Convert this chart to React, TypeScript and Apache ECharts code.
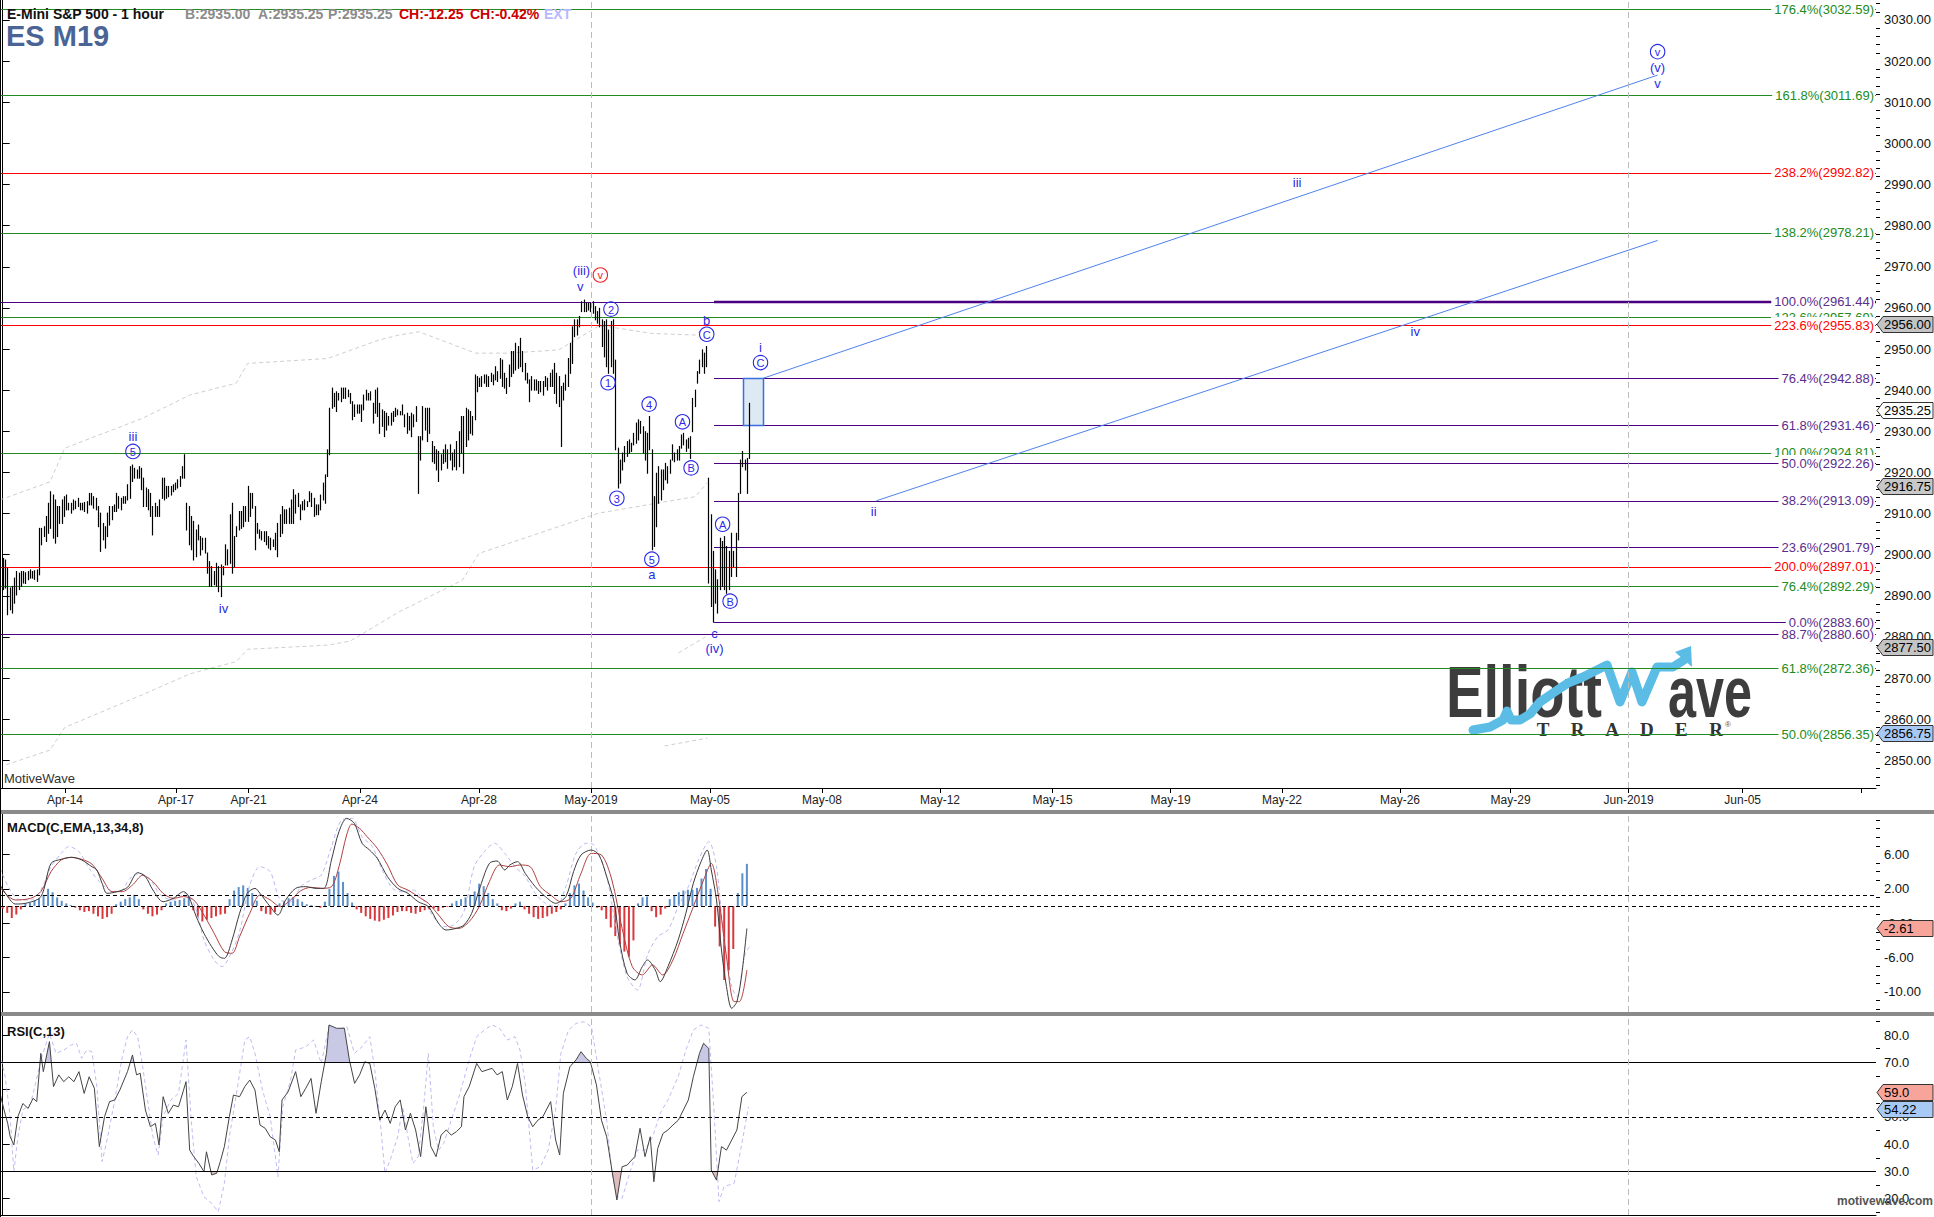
import React, { useEffect, useRef } from 'react';
import * as echarts from 'echarts';

const FONT = '"Liberation Sans", Arial, Helvetica, sans-serif';

// ---------------- DATA ----------------
const barHigh = [
  2899.1,2898.7,2896.7,2891.9,2892.3,2894.3,2895.9,2895.5,2895.9,2895.9,
  2895.6,2895.9,2896.3,2895.9,2896.1,2896.3,2906.4,2906.4,2906.8,2909.3,
  2912.5,2915.3,2914.5,2913.3,2911.7,2911.7,2913.3,2914.1,2914.5,2912.5,
  2912.5,2913.3,2913.0,2913.7,2912.5,2912.5,2912.7,2912.9,2914.9,2914.9,
  2914.1,2913.7,2911.7,2910.1,2907.6,2906.8,2910.1,2911.7,2911.7,2912.1,
  2914.9,2914.1,2913.7,2914.1,2914.1,2917.0,2921.4,2921.8,2921.0,2920.6,
  2921.4,2921.0,2918.6,2916.2,2915.8,2914.9,2911.7,2912.5,2911.7,2913.3,
  2918.6,2918.6,2916.6,2916.6,2916.6,2917.0,2917.4,2918.2,2919.0,2921.4,
  2924.3,2912.5,2911.7,2909.3,2908.1,2906.0,2907.2,2904.4,2904.0,2904.0,
  2900.4,2898.3,2897.1,2895.9,2897.9,2897.1,2897.5,2897.1,2902.4,2901.2,
  2909.7,2912.5,2904.4,2906.8,2910.5,2910.5,2911.7,2911.7,2916.6,2914.9,
  2914.9,2911.7,2907.6,2906.0,2905.6,2905.6,2905.6,2904.4,2904.0,2903.6,
  2905.2,2907.6,2909.7,2911.7,2910.9,2910.9,2911.3,2913.3,2915.8,2914.5,
  2914.9,2912.1,2912.9,2913.3,2912.9,2915.3,2914.9,2913.7,2912.1,2912.1,
  2914.5,2917.4,2919.4,2925.5,2935.6,2940.5,2939.2,2939.6,2939.2,2940.5,
  2940.5,2940.5,2940.0,2939.2,2937.2,2936.4,2936.4,2936.4,2936.4,2938.8,
  2940.0,2939.2,2939.6,2936.8,2940.0,2940.5,2936.8,2935.2,2934.8,2934.4,
  2933.6,2934.4,2934.8,2935.6,2935.2,2934.8,2936.4,2934.0,2934.4,2933.6,
  2934.4,2934.0,2936.0,2928.7,2928.7,2936.0,2935.6,2935.6,2935.6,2927.5,
  2926.3,2925.5,2925.1,2924.3,2925.5,2926.7,2925.5,2926.7,2924.7,2925.5,
  2927.5,2929.9,2933.6,2933.6,2935.6,2935.2,2934.8,2933.6,2943.7,2943.3,
  2942.9,2943.3,2943.7,2943.7,2943.3,2944.1,2943.7,2945.7,2944.5,2947.7,
  2947.3,2944.1,2942.9,2946.1,2949.4,2949.4,2951.4,2950.6,2952.6,2949.4,
  2946.5,2944.1,2942.5,2943.3,2942.5,2942.5,2942.1,2942.1,2942.1,2943.3,
  2942.9,2944.1,2944.9,2946.5,2944.1,2943.3,2940.9,2941.7,2943.7,2947.7,
  2951.4,2955.4,2957.1,2957.1,2957.9,2961.5,2961.9,2961.1,2961.1,2961.1,
  2961.5,2960.3,2959.1,2959.9,2957.1,2956.7,2957.1,2954.6,2956.7,2957.1,
  2947.3,2925.9,2923.0,2924.7,2926.3,2927.5,2927.9,2927.1,2929.5,2932.0,
  2932.8,2932.4,2931.1,2929.9,2929.5,2933.6,2925.5,2914.1,2919.8,2921.4,
  2920.6,2920.6,2922.2,2921.4,2923.0,2926.7,2924.7,2925.5,2926.3,2929.1,
  2929.5,2927.9,2928.3,2928.7,2938.0,2940.0,2944.5,2947.3,2949.8,2949.0,
  2950.6,2918.6,2909.7,2900.8,2896.3,2893.9,2904.0,2903.2,2904.4,2902.0,
  2900.8,2905.2,2900.8,2905.2,2914.9,2923.0,2925.1,2923.0,2923.4,2936.8
];
const barLow = [
  2891.5,2891.9,2885.4,2886.6,2885.8,2888.2,2890.2,2891.5,2892.3,2893.1,
  2893.0,2893.9,2894.3,2894.3,2894.0,2893.5,2895.1,2902.4,2904.4,2903.2,
  2905.2,2906.4,2904.0,2902.8,2904.4,2907.6,2907.6,2909.3,2910.9,2910.9,
  2910.1,2910.9,2911.2,2911.7,2910.9,2910.9,2910.5,2910.1,2912.1,2912.1,
  2911.3,2910.9,2906.8,2900.8,2903.6,2901.6,2904.4,2907.2,2908.5,2910.5,
  2910.5,2911.3,2910.9,2912.5,2912.5,2913.3,2913.7,2917.8,2918.6,2918.6,
  2918.6,2915.8,2911.7,2911.7,2910.9,2909.3,2904.8,2909.3,2909.3,2909.3,
  2913.7,2913.3,2913.7,2914.1,2914.5,2915.3,2915.8,2916.2,2916.6,2918.6,
  2918.6,2906.0,2902.4,2901.2,2898.7,2899.5,2903.6,2899.9,2901.2,2900.4,
  2895.5,2892.3,2892.3,2892.7,2892.3,2891.0,2889.8,2895.1,2897.5,2897.5,
  2897.9,2895.5,2897.1,2904.4,2906.0,2906.4,2906.8,2908.1,2908.1,2909.3,
  2911.3,2901.2,2905.2,2904.0,2903.6,2903.2,2902.4,2901.6,2901.2,2902.0,
  2901.2,2899.5,2904.4,2905.2,2907.6,2907.6,2907.6,2907.6,2907.6,2910.1,
  2911.7,2908.5,2910.9,2910.9,2911.7,2912.9,2911.7,2909.3,2909.7,2909.7,
  2910.9,2913.3,2912.5,2919.0,2924.3,2935.6,2936.0,2934.8,2937.6,2937.2,
  2938.0,2938.0,2938.4,2936.8,2932.8,2933.6,2934.4,2934.4,2932.4,2935.2,
  2937.6,2937.6,2937.6,2932.0,2934.4,2933.6,2929.5,2931.2,2928.7,2930.3,
  2931.5,2931.5,2932.4,2933.6,2934.0,2934.0,2934.0,2931.1,2929.5,2930.3,
  2928.7,2931.1,2932.4,2914.9,2923.0,2927.9,2930.3,2927.5,2929.5,2922.6,
  2922.2,2920.6,2917.8,2920.6,2922.2,2922.6,2921.0,2923.0,2920.6,2921.4,
  2920.6,2921.4,2924.7,2919.8,2926.3,2927.9,2929.5,2929.1,2932.8,2939.6,
  2940.9,2940.9,2941.7,2940.9,2940.9,2942.1,2941.3,2942.5,2942.1,2942.9,
  2940.9,2940.5,2939.2,2940.9,2943.3,2944.1,2944.9,2945.3,2945.7,2944.5,
  2942.5,2941.7,2937.2,2940.0,2940.0,2940.0,2939.2,2939.6,2938.8,2940.9,
  2940.0,2940.9,2940.9,2939.2,2936.8,2936.0,2926.3,2937.6,2940.0,2940.9,
  2944.1,2946.5,2953.0,2953.4,2955.4,2959.1,2959.1,2959.1,2959.5,2959.1,
  2958.7,2957.1,2956.3,2955.4,2950.6,2948.1,2945.7,2944.1,2945.7,2944.1,
  2925.5,2916.2,2917.4,2920.6,2922.6,2923.9,2924.7,2925.1,2926.7,2927.1,
  2927.9,2929.5,2924.7,2923.0,2919.8,2925.5,2901.2,2902.0,2906.8,2912.5,
  2913.3,2915.8,2918.2,2917.4,2919.8,2923.0,2922.6,2923.0,2923.0,2925.9,
  2926.7,2925.1,2925.9,2923.4,2929.9,2936.0,2941.7,2944.1,2945.7,2944.1,
  2945.7,2893.1,2887.4,2883.6,2888.2,2885.8,2891.5,2892.3,2891.5,2890.6,
  2891.5,2894.7,2897.1,2894.7,2903.6,2914.9,2921.4,2920.6,2914.9,2923.4
];

const dateTickPos = [27.46, 76.38, 108.38, 157.48, 209.92, 259.29, 311.74, 361.1, 413.11, 462.74, 514.74, 563.84, 615.85, 664.59, 716.6, 766.89, 818.95];
const dateTickLabels = ['Apr-14','Apr-17','Apr-21','Apr-24','Apr-28','May-2019','May-05','May-08','May-12','May-15','May-19','May-22','May-26','May-29','Jun-2019','Jun-05',''];
const monthLinePos = [259.29, 716.6];

const priceAxisTicks = [2850,2860,2870,2880,2890,2900,2910,2920,2930,2940,2950,2960,2970,2980,2990,3000,3010,3020,3030];
const macdAxisTicks = [6, 2, -2, -6, -10];
const rsiAxisTicks = [80, 70, 60, 50, 40, 30, 20];

const greenFibPct = ['176.4%','161.8%','138.2%','123.6%','100.0%','76.4%','61.8%','50.0%'];
const greenFibLevel = [3032.59, 3011.69, 2978.21, 2957.69, 2924.81, 2892.29, 2872.36, 2856.35];
const redFibPct = ['238.2%','223.6%','200.0%'];
const redFibLevel = [2992.82, 2955.83, 2897.01];
const purpleOldPct = ['', '88.7%'];
const purpleOldLevel = [2961.44, 2880.60];
const purpleNewPct = ['100.0%','76.4%','61.8%','50.0%','38.2%','23.6%','0.0%'];
const purpleNewLevel = [2961.44, 2942.88, 2931.46, 2922.26, 2913.09, 2901.79, 2883.60];
const purpleNewStart = 313.5;

const priceTagValues = [2956.00, 2935.25, 2916.75, 2877.50, 2856.75];
const priceTagText = ['2956.00', '2935.25', '2916.75', '2877.50', '2856.75'];
const macdTagValues = [-2.61];
const macdTagText = ['-2.61'];
const rsiTagValues = [59.0, 54.22];
const rsiTagText = ['59.0', '54.22'];

const plainWaveLabels = [
  [57.4, 2928.7, 'iii'], [97.3, 2887.0, 'iv'], [255.1, 2969.0, '(iii)'], [254.6, 2965.2, 'v'],
  [286.1, 2895.1, 'a'], [310.3, 2957.0, 'b'], [334.0, 2950.4, 'i'], [313.7, 2880.9, 'c'],
  [313.7, 2877.2, '(iv)'], [383.9, 2910.4, 'ii'], [570.5, 2990.5, 'iii'], [622.6, 2954.2, 'iv'],
  [729.4, 3018.4, '(v)'], [729.4, 3014.5, 'v']
];
const circledWaveLabels = [
  [57.4, 2925.1, '5'], [268.1, 2959.7, '2'], [266.8, 2941.8, '1'], [270.7, 2913.7, '3'],
  [284.9, 2936.6, '4'], [286.1, 2898.9, '5'], [299.6, 2932.3, 'A'], [303.4, 2921.1, 'B'],
  [310.3, 2953.6, 'C'], [334.0, 2946.7, 'C'], [317.3, 2907.4, 'A'], [320.6, 2888.7, 'B'],
  [729.4, 3022.3, 'v']
];
const redCircledWaveLabels = [[263.4, 2968.0, 'v']];

const targetBox = [326.1, 2942.88, 335.1, 2931.46];
const blueLineA = [[335.1, 2942.88], [729.4, 3016.6]];
const blueLineB = [[385.0, 2913.09], [729.4, 2976.4]];
const upperBand = [[-1.2,2913.3],[20.8,2917.7],[27.4,2925.9],[61.8,2933.2],[82.4,2938.8],[102.9,2941.7],[108.0,2946.5],[143.2,2947.7],[165.9,2952.2],[174.7,2953.4],[183.5,2954.2],[208.4,2949.0],[223.1,2949.0],[245.1,2949.8],[262.7,2955.6],[268.4,2955.3],[286.1,2953.8],[305.2,2953.4],[309.6,2955.4]];
const lowerBand = [[1.5,2848.9],[20.8,2852.5],[27.4,2858.0],[61.8,2866.0],[82.4,2871.0],[102.9,2874.0],[108.0,2877.0],[143.2,2878.0],[153.2,2879.0],[174.7,2886.1],[202.6,2893.8],[209.9,2900.3],[262.7,2910.1],[305.2,2914.1],[310.3,2917.4]];
const bandSegA = [[297.8,2876.1],[309.7,2880.0]];
const bandSegB = [[291.7,2853.5],[310.6,2855.4]];

const macdLine = [[-1.2,2.44],[3.3,0.70],[5.5,0.23],[10.0,0.31],[16.8,1.09],[21.3,4.96],[25.8,5.43],[30.3,5.66],[34.8,5.35],[39.3,4.57],[41.5,4.19],[43.8,2.64],[46.0,1.47],[50.5,1.67],[55.0,2.17],[59.5,3.88],[62.9,3.41],[66.2,1.86],[70.7,0.50],[75.2,0.89],[79.7,1.67],[82.0,1.09],[85.3,-1.24],[88.7,-3.18],[92.1,-4.73],[95.4,-5.89],[97.7,-6.09],[101.1,-3.95],[104.4,-0.85],[107.8,1.47],[111.2,2.05],[113.4,1.47],[117.9,-0.08],[121.3,-1.05],[124.7,0.70],[129.1,2.05],[133.6,2.25],[138.1,2.05],[141.5,2.05],[144.9,5.35],[148.2,8.64],[151.6,10.19],[155.0,9.61],[158.4,7.29],[161.7,6.51],[165.1,5.54],[169.6,3.41],[174.1,2.05],[178.6,1.47],[183.1,0.50],[187.6,-0.08],[192.1,-2.02],[195.4,-2.79],[199.9,-2.60],[203.3,-2.21],[206.7,-0.85],[210.0,1.86],[214.5,4.96],[217.9,5.23],[221.3,4.19],[223.5,4.77],[226.9,5.16],[230.3,3.80],[234.7,2.25],[239.2,1.09],[243.7,0.31],[248.2,1.09],[251.6,3.99],[254.9,5.93],[259.4,6.51],[262.8,5.93],[266.2,3.41],[269.6,0.31],[271.8,-3.95],[275.2,-7.83],[278.6,-8.60],[281.9,-7.05],[284.2,-6.28],[287.6,-7.44],[289.8,-8.80],[293.2,-7.05],[297.7,-3.95],[301.1,-0.85],[304.4,2.64],[307.8,5.16],[310.5,6.51],[312.3,4.19],[314.6,0.70],[316.8,-5.12],[319.0,-9.38],[321.3,-11.90],[323.6,-11.12],[325.8,-7.83],[328.0,-2.61]];
const signalLine = [[-1.2,2.17],[5.5,0.70],[12.3,0.89],[16.8,1.67],[21.3,3.99],[25.8,5.35],[30.3,5.66],[34.8,5.43],[39.3,4.88],[43.8,3.22],[48.2,1.67],[52.7,1.67],[57.2,2.44],[61.7,3.57],[66.2,2.83],[70.7,1.47],[75.2,0.89],[79.7,1.09],[84.2,0.70],[88.7,-1.05],[93.2,-3.18],[97.7,-5.31],[101.1,-5.50],[104.4,-3.57],[108.9,-0.85],[113.4,1.28],[117.9,0.70],[122.4,-0.08],[126.9,0.70],[131.4,1.78],[135.9,2.17],[140.4,2.05],[144.9,2.25],[148.2,4.57],[151.6,8.26],[153.9,9.53],[157.3,9.03],[160.6,8.06],[165.1,6.71],[169.6,4.77],[174.1,2.44],[178.6,1.86],[183.1,1.09],[187.6,0.31],[192.1,-1.05],[196.6,-2.40],[201.1,-2.60],[205.6,-1.82],[210.0,-0.08],[214.5,2.83],[219.0,4.77],[223.5,4.57],[228.0,4.77],[232.5,4.57],[237.0,2.25],[241.5,1.28],[246.0,0.50],[250.4,0.89],[254.9,3.80],[259.4,6.12],[263.9,5.93],[268.5,3.02],[273.0,-2.60],[277.5,-7.05],[281.9,-8.02],[286.4,-6.86],[290.9,-8.02],[295.4,-6.28],[299.9,-3.18],[304.4,-0.08],[308.9,3.02],[312.3,4.96],[315.7,0.70],[319.0,-5.89],[322.4,-11.12],[324.7,-11.12],[328.0,-7.44]];
const macdDashLine = [[-1.2,4.38],[3.3,1.86],[7.8,0.70],[12.3,0.70],[16.8,1.86],[21.3,4.57],[25.8,6.12],[29.1,6.90],[33.6,6.32],[38.1,4.38],[42.6,2.83],[47.1,1.86],[51.6,1.67],[56.1,3.22],[60.6,3.80],[65.1,3.02],[69.6,1.28],[75.2,0.70],[80.8,1.47],[85.3,-0.47],[88.7,-3.95],[93.2,-6.28],[96.6,-7.05],[100.0,-5.89],[104.4,-2.98],[108.9,2.44],[113.4,4.57],[117.9,3.99],[122.4,0.70],[126.9,0.50],[131.4,2.25],[135.9,3.02],[140.4,3.60],[144.9,6.90],[149.4,10.0],[153.9,10.19],[158.4,8.06],[162.9,6.90],[167.3,4.19],[171.8,2.05],[176.3,1.67],[180.9,1.86],[185.3,0.70],[189.8,-1.24],[194.3,-2.40],[198.8,-2.21],[203.3,-0.66],[207.8,4.57],[212.3,6.32],[216.8,7.29],[221.3,6.12],[225.8,4.57],[230.3,3.41],[234.7,1.47],[239.2,0.31],[243.7,-0.08],[248.2,2.25],[252.7,6.12],[257.2,7.29],[260.6,7.09],[266.2,3.41],[270.7,-3.18],[275.2,-8.22],[279.7,-9.77],[284.2,-5.70],[288.7,-3.57],[293.2,-2.79],[297.7,-0.08],[302.2,2.25],[306.7,5.35],[311.2,7.48],[314.6,4.57],[317.9,-3.95],[321.3,-9.38],[323.6,-10.54],[326.9,-5.89],[329.1,-4.73]];
const macdHist = [
  -0.3,-0.8,-1.4,-1.0,-0.4, 0.3,0.4,0.6,0.9,1.3, 2.0,1.6,1.0,0.6,0.3, 0.1,-0.2,-0.5,-0.7,-0.6,
  -0.9,-1.2,-1.5,-1.3,-0.9, 0.2,0.5,0.8,1.0,1.3, 0.8,-0.4,-0.9,-1.2,-1.0, -0.5,0.3,0.5,0.6,0.7,
  0.9,1.2,-0.5,-1.3,-1.8, -1.6,-1.4,-1.2,-1.0,-0.9, 0.8,1.8,2.2,2.4,2.1, 1.5,0.6,-0.6,-0.9,-1.0,
  -0.7,0.3,0.6,0.9,1.0, 0.8,0.5,0.2,0.1,-0.1, -0.2,0.5,2.0,3.5,4.0, 2.8,1.5,0.4,-0.4,-0.8,
  -1.2,-1.5,-1.7,-1.8,-1.6, -1.4,-1.1,-0.7,-0.6,-0.6, -0.8,-0.9,-0.7,-0.5,-0.4, -0.3,-0.6,-0.2,-0.1,0.3,
  0.6,0.8,1.0,1.3,1.7, 2.6,2.3,1.5,0.8,0.3, -0.5,-0.6,-0.3,0.3,0.5, -0.4,-0.9,-1.3,-1.5,-1.4,
  -1.2,-0.9,-0.7,-0.4,0.3, 1.5,2.4,2.6,1.8,1.0, 0.4,-0.2,-0.5,-1.5,-2.5, -3.5,-4.5,-5.3,-5.9,-4.0,
  0.3,1.0,1.1,-0.6,-1.3, -1.0,-0.3,0.8,1.2,1.6, 1.8,1.9,1.9,2.1,3.2, 4.3,2.0,-2.4,-4.7,-8.6,
  -7.5,-5.0,1.5,3.8,4.9
];
const HIST_STEP = 2;

const rsiLine = [[-1.2,58.6],[0.6,52.5],[2.2,47.6],[3.3,42.7],[4.9,39.7],[6.7,50.1],[8.9,54.9],[11.2,53.1],[13.4,56.8],[15.0,55.6],[16.8,73.3],[17.9,66.6],[20.6,77.6],[22.4,61.1],[24.7,65.4],[26.9,62.9],[29.1,64.7],[31.4,62.9],[33.6,66.6],[35.9,58.6],[38.1,64.7],[40.4,60.5],[42.6,39.1],[44.9,50.1],[47.1,55.6],[49.4,56.2],[51.6,59.8],[55.0,66.6],[57.2,72.7],[59.0,65.4],[60.6,66.0],[62.9,52.5],[65.1,46.4],[67.3,47.6],[68.9,39.7],[70.7,57.4],[73.0,51.3],[75.2,54.3],[77.5,53.7],[79.7,59.8],[80.8,62.9],[82.4,37.8],[84.2,35.4],[86.5,32.9],[88.7,29.9],[89.8,37.2],[92.1,28.7],[94.3,29.3],[95.9,33.6],[97.7,39.1],[99.9,50.1],[101.7,58.0],[104.4,57.4],[106.7,61.1],[108.9,63.5],[111.2,59.8],[113.4,47.0],[115.7,45.8],[117.9,42.7],[120.2,41.5],[121.9,37.2],[123.1,56.2],[125.8,59.2],[129.1,66.6],[131.4,57.4],[133.6,60.5],[135.9,64.1],[138.1,51.3],[140.4,62.9],[142.7,73.3],[143.8,83.7],[147.2,82.5],[150.6,82.5],[152.8,70.9],[155.1,62.3],[157.3,65.4],[159.6,70.2],[161.8,69.6],[164.0,60.5],[166.2,48.8],[168.5,52.5],[170.8,47.6],[173.0,53.7],[175.2,56.2],[177.5,45.2],[179.7,51.3],[182.0,45.2],[184.2,35.4],[186.5,53.7],[188.7,39.1],[191.0,35.4],[193.2,43.3],[195.5,45.2],[197.7,43.3],[200.0,44.6],[202.2,46.4],[203.3,57.4],[205.6,61.1],[208.9,69.6],[211.2,66.6],[213.4,67.2],[215.7,67.8],[217.9,65.4],[220.2,66.6],[222.4,56.2],[224.6,61.1],[226.9,69.6],[229.1,58.0],[231.4,50.1],[233.6,46.4],[235.9,48.8],[238.1,50.1],[241.5,55.6],[243.7,41.5],[245.5,36.0],[247.1,58.6],[250.0,68.4],[252.7,70.9],[254.9,73.9],[257.2,71.5],[259.0,70.2],[261.7,61.7],[263.9,48.8],[266.2,42.7],[268.5,30.5],[270.7,19.5],[273.0,31.7],[275.2,32.3],[278.6,35.4],[280.9,45.8],[283.1,35.4],[285.4,42.7],[287.0,26.2],[288.7,38.4],[291.0,43.9],[293.2,45.2],[295.4,47.0],[297.8,48.8],[300.0,52.5],[302.2,56.2],[304.4,64.7],[307.1,73.3],[308.9,77.0],[311.2,75.1],[312.3,30.5],[314.6,26.8],[316.8,39.1],[319.0,37.8],[321.3,41.5],[323.6,45.2],[325.8,57.4],[328.0,59.0]];
const rsiDashLine = [[-1.2,73.3],[1.1,64.7],[3.3,50.1],[4.9,29.9],[6.7,42.7],[8.9,52.5],[12.3,54.9],[14.5,62.3],[16.8,70.9],[20.6,80.6],[23.5,73.3],[26.9,74.5],[30.3,76.4],[32.5,77.0],[34.8,71.5],[37.0,74.5],[39.3,73.9],[41.5,61.1],[43.8,33.6],[46.0,41.5],[49.4,56.2],[52.7,72.1],[55.0,79.4],[57.2,81.9],[59.5,79.4],[61.7,68.4],[66.2,42.7],[68.5,36.0],[70.7,50.1],[74.1,56.2],[77.5,58.6],[80.8,78.2],[83.1,48.8],[85.3,28.1],[88.7,20.7],[92.1,18.3],[95.0,15.2],[97.7,25.6],[99.9,42.7],[103.3,59.8],[106.7,78.2],[108.9,79.4],[111.2,73.3],[114.5,59.8],[117.9,50.1],[121.3,28.1],[123.5,53.7],[126.9,63.5],[129.1,74.5],[131.4,75.1],[133.6,75.7],[137.0,78.2],[140.4,69.6],[143.8,83.1],[147.2,81.9],[151.7,83.1],[155.0,73.3],[158.4,75.7],[161.8,79.4],[164.0,67.2],[166.2,50.1],[168.5,29.3],[170.8,34.2],[174.1,42.7],[176.3,53.7],[178.6,42.7],[180.8,32.9],[183.1,35.4],[185.3,51.3],[187.6,73.3],[189.8,46.4],[192.1,37.8],[194.4,40.3],[197.7,48.8],[201.1,57.4],[205.6,70.9],[208.9,79.4],[212.3,81.9],[215.7,83.7],[219.0,82.5],[222.4,78.2],[225.8,79.4],[228.0,74.5],[230.3,62.3],[233.6,30.5],[237.0,31.7],[240.4,37.8],[243.7,52.5],[246.0,73.3],[249.4,81.9],[252.7,84.3],[256.1,84.9],[259.5,83.1],[262.8,66.0],[266.2,48.8],[268.5,29.3],[270.7,20.7],[273.0,20.1],[276.3,29.3],[279.7,37.8],[283.1,37.8],[286.5,42.7],[289.8,51.3],[293.2,56.2],[297.7,64.7],[301.1,74.5],[304.4,81.9],[307.8,83.7],[311.2,82.5],[313.4,53.7],[315.7,18.9],[317.9,24.4],[322.4,25.6],[325.8,40.3],[328.7,53.7]];

// ---------------- LAYOUT CONSTANTS ----------------
const W = 1934, H = 1217;
const X_MIN = -0.75, X_MAX = 825.65;
const P_MIN = 2843.27, P_MAX = 3034.86;
const M_MIN = -12.33, M_MAX = 10.70;
const R_MIN = 14.0, R_MAX = 87.0;

const GREEN = '#228B22', RED = '#FF0000', PURPLE = '#4B0082', PURPLE_TXT = '#5A2D8C';
const WAVE_BLUE = '#2b2be6';

function minorTicks(from: number, to: number, step: number, majors: number[]) {
  const out: number[] = [];
  for (let v = from; v <= to + 1e-9; v += step) {
    const r = Math.round(v * 100) / 100;
    if (!majors.some(m => Math.abs(m - r) < 1e-6)) out.push(r);
  }
  return out;
}

type FibRow = { start: number; level: number; text: string; color: string; textColor: string; width: number };
function buildFibRows(): FibRow[] {
  const rows: FibRow[] = [];
  greenFibLevel.forEach((lv, k) => rows.push({ start: X_MIN, level: lv, text: `${greenFibPct[k]}(${lv.toFixed(2)})`, color: GREEN, textColor: GREEN, width: 1 }));
  redFibLevel.forEach((lv, k) => rows.push({ start: X_MIN, level: lv, text: `${redFibPct[k]}(${lv.toFixed(2)})`, color: RED, textColor: RED, width: 1 }));
  purpleOldLevel.forEach((lv, k) => rows.push({ start: X_MIN, level: lv, text: purpleOldPct[k] ? `${purpleOldPct[k]}(${lv.toFixed(2)})` : '', color: PURPLE, textColor: PURPLE_TXT, width: 1 }));
  purpleNewLevel.forEach((lv, k) => rows.push({ start: purpleNewStart, level: lv, text: `${purpleNewPct[k]}(${lv.toFixed(2)})`, color: PURPLE, textColor: PURPLE_TXT, width: k === 0 ? 2.6 : 1 }));
  return rows;
}

function thresholdPolys(pts: number[][], T: number, above: boolean) {
  const polys: number[][][] = [];
  let cur: number[][] | null = null;
  for (let k = 0; k < pts.length; k++) {
    const [x, v] = pts[k];
    const inside = above ? v > T : v < T;
    if (inside) {
      if (!cur) {
        if (k > 0) {
          const [px, pv] = pts[k - 1];
          const t = (T - pv) / (v - pv);
          cur = [[px + t * (x - px), T]];
        } else cur = [[x, T]];
      }
      cur.push([x, v]);
    } else if (cur) {
      const [px, pv] = pts[k - 1];
      const t = (T - pv) / (v - pv);
      cur.push([px + t * (x - px), T]);
      polys.push(cur);
      cur = null;
    }
  }
  if (cur) { cur.push([cur[cur.length - 1][0], T]); polys.push(cur); }
  return polys;
}

function tagSeries(xAxisIndex: number, yAxisIndex: number, values: number[], texts: string[], fills: string[]) {
  return {
    type: 'custom', xAxisIndex, yAxisIndex, clip: false, z: 30, silent: true,
    data: values.map((v, k) => [X_MIN, v, k]),
    encode: { x: 0, y: 1 },
    renderItem: (params: any, api: any) => {
      const k = api.value(2);
      const cs = params.coordSys;
      const right = cs.x + cs.width;
      let y = api.coord([X_MIN, values[0]])[1];
      for (let j = 1; j <= k; j++) {
        const yj = api.coord([X_MIN, values[j]])[1];
        y = Math.max(yj, y + 17);
      }
      y = Math.round(y) + 0.5;
      return {
        type: 'group',
        children: [
          { type: 'polygon', shape: { points: [[right + 1, y], [right + 7, y - 8], [right + 57, y - 8], [right + 57, y + 8], [right + 7, y + 8]] }, style: { fill: fills[k], stroke: '#333', lineWidth: 1 } },
          { type: 'text', x: right + 8, y: y, style: { text: texts[k], fill: '#000', font: `13px ${FONT}`, verticalAlign: 'middle', align: 'left' } }
        ]
      };
    }
  };
}

function buildOption() {
  const fibRows = buildFibRows();
  const priceMinor = minorTicks(2844, 3034, 2, priceAxisTicks);
  const macdMinor = minorTicks(-12, 10, 1, macdAxisTicks);
  const rsiMinor = minorTicks(15, 85, 5, rsiAxisTicks);
  const monthMark = monthLinePos.map(x => ({ xAxis: x, lineStyle: { color: '#bcbcbc', type: [6, 4], width: 1 } }));
  const markBase = { silent: true, symbol: ['none', 'none'], label: { show: false }, animation: false };

  const xAxisBase = { type: 'value', min: X_MIN, max: X_MAX, splitLine: { show: false } };
  const yBase = (grid: number, min: number, max: number) => ({ type: 'value', gridIndex: grid, position: 'right', min, max, splitLine: { show: false } });

  const labelStyle = { fontFamily: FONT, fontSize: 13, color: '#111', hideOverlap: false };

  return {
    animation: false,
    backgroundColor: '#ffffff',
    textStyle: { fontFamily: FONT },
    grid: [
      { left: 1, top: 0, width: 1875, height: 788, containLabel: false, outerBoundsMode: 'none' },
      { left: 1, top: 814, width: 1875, height: 198, containLabel: false, outerBoundsMode: 'none' },
      { left: 1, top: 1016, width: 1875, height: 199, containLabel: false, outerBoundsMode: 'none' }
    ],
    xAxis: [
      {
        ...xAxisBase, gridIndex: 0,
        axisLine: { show: true, lineStyle: { color: '#000', width: 1 } },
        axisTick: { show: true, customValues: dateTickPos, length: 5, lineStyle: { color: '#000' } },
        axisLabel: {
          show: true, customValues: dateTickPos, margin: 6, fontFamily: FONT, fontSize: 12, color: '#222', hideOverlap: false,
          formatter: (v: number) => { const k = dateTickPos.findIndex(p => Math.abs(p - v) < 0.01); return k >= 0 ? dateTickLabels[k] : ''; }
        }
      },
      { ...xAxisBase, gridIndex: 1, show: false },
      { ...xAxisBase, gridIndex: 2, axisLine: { show: true, lineStyle: { color: '#000' } }, axisTick: { show: false }, axisLabel: { show: false } }
    ],
    yAxis: [
      {
        ...yBase(0, P_MIN, P_MAX),
        axisLine: { show: true, lineStyle: { color: '#000' } },
        axisTick: { show: true, customValues: priceAxisTicks, length: 7, lineStyle: { color: '#000' } },
        axisLabel: { ...labelStyle, customValues: priceAxisTicks, margin: 8, formatter: (v: number) => v.toFixed(2) }
      },
      {
        ...yBase(0, P_MIN, P_MAX),
        axisLine: { show: false }, axisLabel: { show: false },
        axisTick: { show: true, customValues: priceMinor, length: 4, lineStyle: { color: '#000' } }
      },
      {
        ...yBase(1, M_MIN, M_MAX),
        axisLine: { show: true, lineStyle: { color: '#000' } },
        axisTick: { show: true, customValues: macdAxisTicks, length: 7, lineStyle: { color: '#000' } },
        axisLabel: { ...labelStyle, customValues: macdAxisTicks, margin: 8, formatter: (v: number) => v.toFixed(2) }
      },
      {
        ...yBase(1, M_MIN, M_MAX),
        axisLine: { show: false }, axisLabel: { show: false },
        axisTick: { show: true, customValues: macdMinor, length: 4, lineStyle: { color: '#000' } }
      },
      {
        ...yBase(2, R_MIN, R_MAX),
        axisLine: { show: true, lineStyle: { color: '#000' } },
        axisTick: { show: true, customValues: rsiAxisTicks, length: 7, lineStyle: { color: '#000' } },
        axisLabel: { ...labelStyle, customValues: rsiAxisTicks, margin: 8, formatter: (v: number) => v.toFixed(1) }
      },
      {
        ...yBase(2, R_MIN, R_MAX),
        axisLine: { show: false }, axisLabel: { show: false },
        axisTick: { show: true, customValues: rsiMinor, length: 4, lineStyle: { color: '#000' } }
      }
    ],
    series: [
      {
        type: 'line', xAxisIndex: 0, yAxisIndex: 0, data: upperBand, symbol: 'none', silent: true, z: 2,
        lineStyle: { color: '#cfcfcf', type: [4, 3], width: 1 },
        markLine: { ...markBase, data: monthMark }
      },
      { type: 'line', xAxisIndex: 0, yAxisIndex: 0, data: lowerBand, symbol: 'none', silent: true, z: 2, lineStyle: { color: '#cfcfcf', type: [4, 3], width: 1 } },
      { type: 'line', xAxisIndex: 0, yAxisIndex: 0, data: bandSegA, symbol: 'none', silent: true, z: 2, lineStyle: { color: '#cfcfcf', type: [4, 3], width: 1 } },
      { type: 'line', xAxisIndex: 0, yAxisIndex: 0, data: bandSegB, symbol: 'none', silent: true, z: 2, lineStyle: { color: '#cfcfcf', type: [4, 3], width: 1 } },
      {
        type: 'custom', xAxisIndex: 0, yAxisIndex: 0, z: 3, silent: true, clip: false,
        data: fibRows.map((r, k) => [r.start, r.level, k]),
        encode: { x: 0, y: 1 },
        renderItem: (params: any, api: any) => {
          const row = fibRows[api.value(2)];
          const p = api.coord([row.start, row.level]);
          const cs = params.coordSys;
          const right = cs.x + cs.width;
          const y = row.width === 1 ? Math.round(p[1]) + 0.5 : Math.round(p[1]);
          const children: any[] = [
            { type: 'line', shape: { x1: Math.max(p[0], cs.x), y1: y, x2: right, y2: y }, style: { stroke: row.color, lineWidth: row.width } }
          ];
          if (row.text) {
            children.push({ type: 'text', x: right - 1, y: p[1], style: { text: row.text, fill: row.textColor, font: `13px ${FONT}`, align: 'right', verticalAlign: 'middle', backgroundColor: '#ffffff', padding: [2, 1, 1, 3] } });
          }
          return { type: 'group', children };
        }
      },
      {
        type: 'custom', xAxisIndex: 0, yAxisIndex: 0, z: 4, silent: true,
        data: [targetBox], encode: { x: [0, 2], y: [1, 3] },
        renderItem: (params: any, api: any) => {
          const a = api.coord([api.value(0), api.value(1)]);
          const b = api.coord([api.value(2), api.value(3)]);
          return { type: 'rect', shape: { x: Math.round(a[0]) + 0.5, y: Math.round(a[1]) + 0.5, width: Math.round(b[0] - a[0]), height: Math.round(b[1] - a[1]) }, style: { fill: '#dde9f3', stroke: '#3b6fe0', lineWidth: 1.5 } };
        }
      },
      { type: 'line', xAxisIndex: 0, yAxisIndex: 0, data: blueLineA, symbol: 'none', silent: true, z: 4, lineStyle: { color: '#4f82ee', width: 1 } },
      { type: 'line', xAxisIndex: 0, yAxisIndex: 0, data: blueLineB, symbol: 'none', silent: true, z: 4, lineStyle: { color: '#4f82ee', width: 1 } },
      {
        type: 'custom', xAxisIndex: 0, yAxisIndex: 0, z: 6, clip: true, silent: true,
        data: barLow.map((lo, i) => [i, lo, barHigh[i]]),
        encode: { x: 0, y: [1, 2] },
        renderItem: (params: any, api: any) => {
          const i = api.value(0);
          const a = api.coord([i, api.value(1)]);
          const b = api.coord([i, api.value(2)]);
          const x = Math.round(a[0]) + 0.5;
          return { type: 'line', shape: { x1: x, y1: a[1] + 0.5, x2: x, y2: b[1] - 0.5 }, style: { stroke: '#000', lineWidth: 1.2 } };
        }
      },
      {
        type: 'custom', xAxisIndex: 0, yAxisIndex: 0, z: 8, clip: false, silent: true,
        data: plainWaveLabels.map((r, k) => [r[0], r[1], k]), encode: { x: 0, y: 1 },
        renderItem: (params: any, api: any) => {
          const r = plainWaveLabels[api.value(2)];
          const p = api.coord([r[0], r[1]]);
          return { type: 'text', x: p[0], y: p[1], style: { text: r[2], fill: WAVE_BLUE, font: `13px ${FONT}`, align: 'center', verticalAlign: 'middle' } };
        }
      },
      {
        type: 'custom', xAxisIndex: 0, yAxisIndex: 0, z: 8, clip: false, silent: true,
        data: circledWaveLabels.map((r, k) => [r[0], r[1], k]), encode: { x: 0, y: 1 },
        renderItem: (params: any, api: any) => {
          const r = circledWaveLabels[api.value(2)];
          const p = api.coord([r[0], r[1]]);
          return {
            type: 'group', children: [
              { type: 'circle', shape: { cx: p[0], cy: p[1], r: 7.2 }, style: { fill: 'none', stroke: WAVE_BLUE, lineWidth: 1.1 } },
              { type: 'text', x: p[0], y: p[1] + 0.5, style: { text: r[2], fill: WAVE_BLUE, font: `11px ${FONT}`, align: 'center', verticalAlign: 'middle' } }
            ]
          };
        }
      },
      {
        type: 'custom', xAxisIndex: 0, yAxisIndex: 0, z: 8, clip: false, silent: true,
        data: redCircledWaveLabels.map((r, k) => [r[0], r[1], k]), encode: { x: 0, y: 1 },
        renderItem: (params: any, api: any) => {
          const r = redCircledWaveLabels[api.value(2)];
          const p = api.coord([r[0], r[1]]);
          return {
            type: 'group', children: [
              { type: 'circle', shape: { cx: p[0], cy: p[1], r: 7.2 }, style: { fill: 'none', stroke: '#ee2222', lineWidth: 1.1 } },
              { type: 'text', x: p[0], y: p[1] + 0.5, style: { text: r[2], fill: '#ee2222', font: `11px ${FONT}`, align: 'center', verticalAlign: 'middle' } }
            ]
          };
        }
      },
      tagSeries(0, 0, priceTagValues, priceTagText, ['#c4c4c4', '#ffffff', '#c8c8c8', '#c4c4c4', '#a9c9f5']),

      {
        type: 'bar', xAxisIndex: 1, yAxisIndex: 2, barWidth: 2, silent: true, z: 2,
        data: macdHist.map((v, k) => [k * HIST_STEP, v]),
        itemStyle: { color: (p: any) => (p.value[1] >= 0 ? '#5b8fc9' : '#d8383c') },
        markLine: {
          ...markBase,
          data: [
            { yAxis: 1.2, lineStyle: { color: '#000', type: [4, 3], width: 1 } },
            { yAxis: 0, lineStyle: { color: '#000', type: [4, 3], width: 1 } },
            ...monthMark
          ]
        }
      },
      { type: 'line', xAxisIndex: 1, yAxisIndex: 2, data: macdDashLine, symbol: 'none', smooth: 0.3, silent: true, z: 3, lineStyle: { color: '#b9b9f0', type: [4, 3], width: 1 } },
      { type: 'line', xAxisIndex: 1, yAxisIndex: 2, data: signalLine, symbol: 'none', smooth: 0.3, silent: true, z: 4, lineStyle: { color: '#b04040', width: 1 } },
      { type: 'line', xAxisIndex: 1, yAxisIndex: 2, data: macdLine, symbol: 'none', smooth: 0.3, silent: true, z: 5, lineStyle: { color: '#3c3c3c', width: 1 } },
      tagSeries(1, 2, macdTagValues, macdTagText, ['#f7a49a']),

      {
        type: 'custom', xAxisIndex: 2, yAxisIndex: 4, z: 1, silent: true, clip: true,
        data: [[0, 50]], encode: { x: 0, y: 1 },
        renderItem: (params: any, api: any) => {
          const children: any[] = [];
          thresholdPolys(rsiLine, 70, true).forEach(poly => children.push({ type: 'polygon', shape: { points: poly.map(q => api.coord(q)) }, style: { fill: '#c9c9e6' } }));
          thresholdPolys(rsiLine, 30, false).forEach(poly => children.push({ type: 'polygon', shape: { points: poly.map(q => api.coord(q)) }, style: { fill: '#e0bdbd' } }));
          return { type: 'group', children };
        }
      },
      { type: 'line', xAxisIndex: 2, yAxisIndex: 4, data: rsiDashLine, symbol: 'none', silent: true, z: 2, lineStyle: { color: '#bcbcf2', type: [4, 3], width: 1 } },
      {
        type: 'line', xAxisIndex: 2, yAxisIndex: 4, data: rsiLine, symbol: 'none', silent: true, z: 3, lineStyle: { color: '#444', width: 1 },
        markLine: {
          ...markBase,
          data: [
            { yAxis: 70, lineStyle: { color: '#000', type: 'solid', width: 1 } },
            { yAxis: 30, lineStyle: { color: '#000', type: 'solid', width: 1 } },
            { yAxis: 50, lineStyle: { color: '#000', type: [4, 3], width: 1 } },
            ...monthMark
          ]
        }
      },
      tagSeries(2, 4, rsiTagValues, rsiTagText, ['#f7a49a', '#a9c9f5'])
    ],
    graphic: [
      {
        type: 'group', z: 1, children: [
          { type: 'text', x: 1446, y: 692, scaleX: 0.78, style: { text: 'Elliott', font: `bold 72px ${FONT}`, fill: '#3d3d3d', verticalAlign: 'middle' } },
          { type: 'text', x: 1668, y: 692, scaleX: 0.7, style: { text: 'ave', font: `bold 72px ${FONT}`, fill: '#3d3d3d', verticalAlign: 'middle' } },
          {
            type: 'polyline', shape: { points: [[1473, 730], [1490, 727], [1503, 720], [1507, 711], [1511, 720], [1520, 720], [1530, 714], [1540, 702], [1553, 693], [1568, 683], [1583, 677], [1597, 670], [1607, 665], [1620, 702], [1632, 672], [1642, 702], [1657, 667], [1673, 667], [1684, 660]] },
            style: { stroke: '#5bbde6', lineWidth: 9, fill: 'none', lineJoin: 'round', lineCap: 'round' }
          },
          { type: 'polygon', shape: { points: [[1675, 652], [1691, 646], [1692, 667]] }, style: { fill: '#5bbde6' } },
          ...'TRADER'.split('').map((ch, k) => ({ type: 'text', x: 1543 + k * 34.6, y: 729, style: { text: ch, font: 'bold 19px "Liberation Serif", "DejaVu Serif", serif', fill: '#333', align: 'center', verticalAlign: 'middle' } })),
          { type: 'text', x: 1728, y: 724, style: { text: '®', font: `8px ${FONT}`, fill: '#555', align: 'center', verticalAlign: 'middle' } }
        ]
      },
      { type: 'text', x: 7, y: 14, z: 50, style: { text: 'E-Mini S&P 500 - 1 hour', font: `bold 14px ${FONT}`, fill: '#111', verticalAlign: 'middle' } },
      { type: 'text', x: 185, y: 14, z: 50, style: { text: 'B:2935.00', font: `bold 14px ${FONT}`, fill: '#8c8c8c', verticalAlign: 'middle' } },
      { type: 'text', x: 258, y: 14, z: 50, style: { text: 'A:2935.25', font: `bold 14px ${FONT}`, fill: '#8c8c8c', verticalAlign: 'middle' } },
      { type: 'text', x: 328, y: 14, z: 50, style: { text: 'P:2935.25', font: `bold 14px ${FONT}`, fill: '#8c8c8c', verticalAlign: 'middle' } },
      { type: 'text', x: 399, y: 14, z: 50, style: { text: 'CH:-12.25', font: `bold 14px ${FONT}`, fill: '#cc0000', verticalAlign: 'middle' } },
      { type: 'text', x: 470, y: 14, z: 50, style: { text: 'CH:-0.42%', font: `bold 14px ${FONT}`, fill: '#cc0000', verticalAlign: 'middle' } },
      { type: 'text', x: 544, y: 14, z: 50, style: { text: 'EXT', font: `bold 14px ${FONT}`, fill: '#b8b8ff', verticalAlign: 'middle' } },
      { type: 'text', x: 6, y: 36, z: 50, style: { text: 'ES M19', font: `bold 29px ${FONT}`, fill: '#4a6496', verticalAlign: 'middle' } },
      { type: 'text', x: 4, y: 778, z: 50, style: { text: 'MotiveWave', font: `13px ${FONT}`, fill: '#333', verticalAlign: 'middle' } },
      { type: 'text', x: 7, y: 827, z: 50, style: { text: 'MACD(C,EMA,13,34,8)', font: `bold 13px ${FONT}`, fill: '#111', verticalAlign: 'middle' } },
      { type: 'text', x: 7, y: 1031, z: 50, style: { text: 'RSI(C,13)', font: `bold 13px ${FONT}`, fill: '#111', verticalAlign: 'middle' } },
      { type: 'text', x: 1837, y: 1201, z: 50, style: { text: 'motivewave.com', font: `bold 12px ${FONT}`, fill: '#555', verticalAlign: 'middle' } },
      { type: 'rect', z: 100, shape: { x: 0, y: 810, width: W, height: 4 }, style: { fill: '#8a8a8a' } },
      { type: 'rect', z: 100, shape: { x: 0, y: 1012, width: W, height: 4 }, style: { fill: '#8a8a8a' } },
      { type: 'line', z: 100, shape: { x1: 0.5, y1: 0, x2: 0.5, y2: H }, style: { stroke: '#000', lineWidth: 1 } }
    ]
  };
}

export default function App() {
  const ref = useRef<HTMLDivElement>(null);
  useEffect(() => {
    if (!ref.current) return;
    const chart = echarts.init(ref.current, null, { renderer: 'svg' });
    chart.setOption(buildOption() as any);
    return () => chart.dispose();
  }, []);
  return <div ref={ref} style={{ position: 'fixed', left: 0, top: 0, width: W, height: H, background: '#fff' }} />;
}
